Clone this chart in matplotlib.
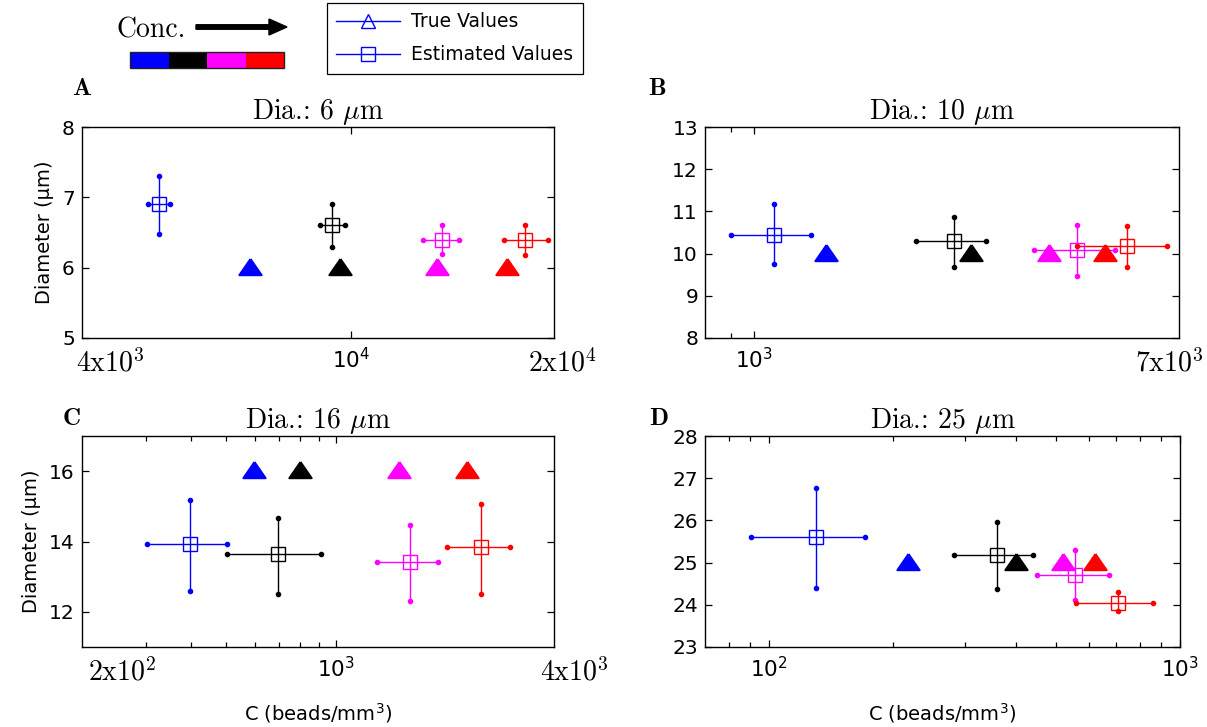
import matplotlib
matplotlib.use('Agg')
import matplotlib.pyplot as plt
from matplotlib.lines import Line2D
from matplotlib.patches import Rectangle, FancyArrow
from matplotlib.ticker import NullFormatter

plt.rcParams['font.family'] = ['DejaVu Sans']
plt.rcParams['mathtext.fontset'] = 'dejavusans'

SERIF = ['cmr10', 'DejaVu Serif']
colors = ['blue', 'black', 'magenta', 'red']

# Dia. 6 um
a_true_conc = [7100, 9650, 13400, 17000]
a_true_dia = [6, 6, 6, 6]
a_est_conc = [5200, 9370, 13650, 18100]
a_conc_lo = [5010, 9020, 12800, 16850]
a_conc_hi = [5400, 9800, 14450, 19550]
a_est_dia = [6.9, 6.6, 6.4, 6.4]
a_dia_lo = [6.48, 6.3, 6.2, 6.18]
a_dia_hi = [7.3, 6.9, 6.6, 6.6]

# Dia. 10 um
b_true_conc = [1390, 2700, 3870, 4990]
b_true_dia = [10, 10, 10, 10]
b_est_conc = [1095, 2495, 4390, 5515]
b_conc_lo = [900, 2100, 3610, 4390]
b_conc_hi = [1300, 2900, 5220, 6620]
b_est_dia = [10.45, 10.29, 10.09, 10.18]
b_dia_lo = [9.76, 9.67, 9.47, 9.68]
b_dia_hi = [11.18, 10.88, 10.68, 10.66]

# Dia. 16 um
c_true_conc = [595, 800, 1490, 2300]
c_true_dia = [16, 16, 16, 16]
c_est_conc = [398, 696, 1600, 2520]
c_conc_lo = [302, 502, 1300, 2020]
c_conc_hi = [502, 910, 1910, 3020]
c_est_dia = [13.92, 13.63, 13.42, 13.83]
c_dia_lo = [12.6, 12.5, 12.29, 12.5]
c_dia_hi = [15.18, 14.68, 14.47, 15.08]

# Dia. 25 um
d_true_conc = [218, 400, 518, 622]
d_true_dia = [25, 25, 25, 25]
d_est_conc = [130, 358, 557, 706]
d_conc_lo = [90.5, 282, 449, 559]
d_conc_hi = [171.5, 440, 671, 859]
d_est_dia = [25.6, 25.17, 24.7, 24.05]
d_dia_lo = [24.4, 24.38, 24.1, 23.85]
d_dia_hi = [26.78, 25.97, 25.3, 24.29]

titles = [r'Dia.: 6 $\mu$m', r'Dia.: 10 $\mu$m', r'Dia.: 16 $\mu$m', r'Dia.: 25 $\mu$m']
letters = ['A', 'B', 'C', 'D']
xlims = [(4e3, 2e4), (8e2, 7e3), (2e2, 4e3), (70, 1e3)]
ylims = [(5, 8), (8, 13), (11, 17), (23, 28)]
yticks = [[5, 6, 7, 8], [8, 9, 10, 11, 12, 13], [12, 14, 16], [23, 24, 25, 26, 27, 28]]
xticks = [[1e4], [1e3], [1e3], [1e2, 1e3]]
xticklabels = [[r'$10^4$'], [r'$10^3$'], [r'$10^3$'], [r'$10^2$', r'$10^3$']]
xminor = [[], [900], [300, 400, 500, 600, 700, 800, 900],
          [80, 90, 200, 300, 400, 500, 600, 700, 800, 900]]
# end labels: (axes fraction of left edge, text)
end_labels = [[(-0.012, r'$\mathrm{4x10^3}$'), (0.944, r'$\mathrm{2x10^4}$')],
              [(0.907, r'$\mathrm{7x10^3}$')],
              [(0.013, r'$\mathrm{2x10^2}$'), (0.970, r'$\mathrm{4x10^3}$')],
              []]

panels = [
    (a_true_conc, a_true_dia, a_est_conc, a_conc_lo, a_conc_hi, a_est_dia, a_dia_lo, a_dia_hi),
    (b_true_conc, b_true_dia, b_est_conc, b_conc_lo, b_conc_hi, b_est_dia, b_dia_lo, b_dia_hi),
    (c_true_conc, c_true_dia, c_est_conc, c_conc_lo, c_conc_hi, c_est_dia, c_dia_lo, c_dia_hi),
    (d_true_conc, d_true_dia, d_est_conc, d_conc_lo, d_conc_hi, d_est_dia, d_dia_lo, d_dia_hi),
]

W, H = 1207, 727
boxes = [(81.7, 127.3, 554.3, 337.7), (705, 127.3, 1179, 337.7),
         (81.7, 436.3, 554.3, 646.7), (705, 436.3, 1180, 646.7)]
letter_pos = [(72, 95), (648, 95), (63, 425), (649, 425)]

# filled triangle, a bit wider than tall
tri = [(0, 0.85), (-1, -0.6), (1, -0.6), (0, 0.85)]

fig = plt.figure(figsize=(W / 100, H / 100), dpi=100)

for k, (tc, td, ec, clo, chi, ed, dlo, dhi) in enumerate(panels):
    x0, y0, x1, y1 = boxes[k]
    ax = fig.add_axes([x0 / W, 1 - y1 / H, (x1 - x0) / W, (y1 - y0) / H])
    ax.set_xscale('log')
    for i, col in enumerate(colors):
        ax.errorbar([ec[i]], [ed[i]],
                    xerr=[[ec[i] - clo[i]], [chi[i] - ec[i]]],
                    yerr=[[ed[i] - dlo[i]], [dhi[i] - ed[i]]],
                    fmt='s', ms=10.5, mfc='none', mec=col, mew=1,
                    ecolor=col, elinewidth=1, capsize=0, zorder=3)
        ax.plot([clo[i], chi[i]], [ed[i], ed[i]], 'o', ms=3, color=col, zorder=3)
        ax.plot([ec[i], ec[i]], [dlo[i], dhi[i]], 'o', ms=3, color=col, zorder=3)
        ax.plot([tc[i]], [td[i]], marker=tri, ms=16, color=col, mec=col,
                mew=1.5, ls='none', zorder=4)

    ax.set_xlim(*xlims[k])
    ax.set_ylim(*ylims[k])
    ax.set_yticks(yticks[k])
    ax.set_xticks(xticks[k])
    ax.set_xticklabels(xticklabels[k])
    ax.set_xticks(xminor[k], minor=True)
    ax.xaxis.set_minor_formatter(NullFormatter())
    ax.tick_params(which='both', direction='in', top=True, right=True,
                   labelsize=14.5, width=0.9)
    ax.tick_params(axis='x', which='major', length=5, pad=7, labelsize=15.5)
    ax.tick_params(axis='x', which='minor', length=3.5)
    ax.tick_params(axis='y', which='major', length=5, pad=5)
    for sp in ax.spines.values():
        sp.set_linewidth(1.0)

    for xf, s in end_labels[k]:
        ax.annotate(s, xy=(xf, 0), xycoords='axes fraction', xytext=(0, -8),
                    textcoords='offset points', ha='left', va='top',
                    fontsize=20, math_fontfamily='cm')

    ax.set_title(titles[k], family=SERIF, fontsize=20, pad=3, math_fontfamily='cm')
    if k in (0, 2):
        ax.set_ylabel('Diameter (\u00b5m)', fontsize=14, labelpad=6)
    if k in (2, 3):
        ax.set_xlabel('C (beads/mm$^3$)', fontsize=14, labelpad=14)

# overlay in pixel units for the concentration key and panel letters
ov = fig.add_axes([0, 0, 1, 1], zorder=5)
ov.set_xlim(0, W)
ov.set_ylim(H, 0)
ov.axis('off')

ov.text(117, 38, 'Conc.', family=SERIF, fontsize=20, ha='left', va='baseline')
ov.add_patch(FancyArrow(196, 27, 91, 0, width=4.5, head_width=16, head_length=18,
                        length_includes_head=True, color='black'))
seg = (284 - 130) / len(colors)
for i, col in enumerate(colors):
    ov.add_patch(Rectangle((130 + i * seg, 52), seg, 16, facecolor=col, edgecolor='none'))
ov.add_patch(Rectangle((130, 52), 154, 16, facecolor='none', edgecolor='#222222', lw=1))

for (lx, ly), s in zip(letter_pos, letters):
    ov.text(lx, ly, s, family=['cmb10', 'DejaVu Serif'], fontsize=18,
            ha='left', va='baseline')

handles = [Line2D([], [], color='blue', lw=1, marker='^', ms=10, mfc='none'),
           Line2D([], [], color='blue', lw=1, marker='s', ms=10, mfc='none')]
leg = fig.legend(handles, ['True Values', 'Estimated Values'], loc='upper left',
                 bbox_to_anchor=(327 / W, 1 - 3 / H), fontsize=13.5,
                 handlelength=3.4, handletextpad=0.6, borderaxespad=0,
                 borderpad=0.5, fancybox=False, edgecolor='black',
                 framealpha=1, labelspacing=0.75)
leg.get_frame().set_linewidth(0.9)

fig.savefig('out.png', dpi=100)
